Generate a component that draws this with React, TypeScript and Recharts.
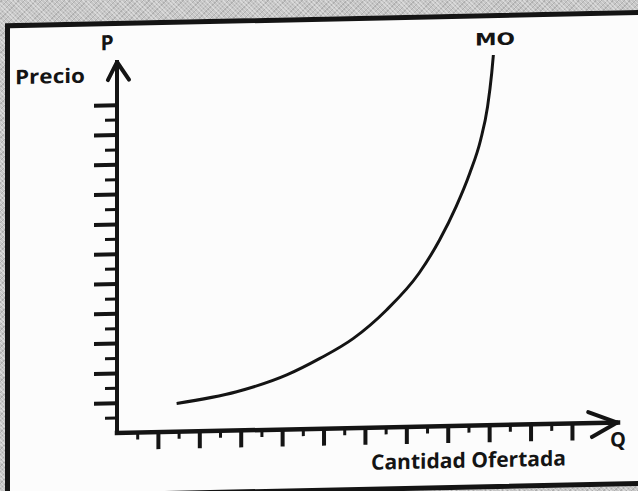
import React from "react";
import { LineChart, Line, XAxis, YAxis, ReferenceLine } from "recharts";

// supply curve (MO) in tick units
const quantity = [1.44, 2.89, 4.1, 4.9, 5.71, 6.51, 7.29, 7.79, 8.19, 8.52, 8.78, 8.95, 9.05, 9.09];
const price = [0.95, 1.3, 1.83, 2.36, 3.01, 3.94, 5.14, 6.25, 7.36, 8.47, 9.57, 10.69, 11.81, 12.42];

const qTicks = [0.5, 1, 1.5, 2, 2.5, 3, 3.5, 4, 4.5, 5, 5.5, 6, 6.5, 7, 7.5, 8, 8.5, 9, 9.5, 10, 10.5, 11];
const pTicks = [0.5, 1, 1.5, 2, 2.5, 3, 3.5, 4, 4.5, 5, 5.5, 6, 6.5, 7, 7.5, 8, 8.5, 9, 9.5, 10, 10.5, 11];

const data = quantity.map((q, i) => ({ q, p: price[i] }));

const INK = "#141414";
const FONT = "'Open Sans', Lato, sans-serif";

const XTick = (props: any) => {
  const { x, y, payload } = props;
  const major = Number.isInteger(payload.value);
  return (
    <line x1={x} x2={x} y1={y} y2={y + (major ? 17 : 7)} stroke={INK} strokeWidth={major ? 4 : 3} />
  );
};

const YTick = (props: any) => {
  const { x, y, payload } = props;
  const major = Number.isInteger(payload.value);
  return (
    <line x1={x - (major ? 23 : 12)} x2={x} y1={y} y2={y} stroke={INK} strokeWidth={major ? 4 : 3} />
  );
};

const arrow = { stroke: INK, strokeWidth: 4, ifOverflow: "visible" as const, strokeLinecap: "round" as const };

export default function App() {
  return (
    <div
      style={{
        position: "fixed",
        left: 0,
        top: 0,
        width: 638,
        height: 491,
        overflow: "hidden",
        background: "#c6c6c6",
        backgroundImage:
          "repeating-linear-gradient(45deg, rgba(255,255,255,0.35) 0 1px, transparent 1px 3px), repeating-linear-gradient(-45deg, rgba(0,0,0,0.12) 0 1px, transparent 1px 4px)",
      }}
    >
      {/* the photo is slightly sheared, verticals stay vertical */}
      <div
        style={{
          position: "absolute",
          left: 0,
          top: 0,
          width: 638,
          height: 491,
          transform: "skewY(-1.2deg)",
          transformOrigin: "117px 433px",
        }}
      >
        <div
          style={{
            position: "absolute",
            left: 5,
            top: 21,
            width: 800,
            height: 476,
            boxSizing: "border-box",
            border: `5px solid ${INK}`,
            background: "#fcfcfc",
          }}
        />
        <div style={{ position: "absolute", left: 0, top: 0 }}>
          <LineChart width={638} height={491} data={data} margin={{ top: 62, right: 20, left: 0, bottom: 0 }}>
            <XAxis
              dataKey="q"
              type="number"
              domain={[0, 12.1]}
              ticks={qTicks}
              interval={0}
              height={58}
              tickSize={0}
              tickMargin={0}
              tickLine={false}
              tick={XTick}
              axisLine={{ stroke: INK, strokeWidth: 4.5, strokeLinecap: "square" }}
              allowDataOverflow
            />
            <YAxis
              type="number"
              domain={[0, 12.45]}
              ticks={pTicks}
              interval={0}
              width={117}
              tickSize={0}
              tickMargin={0}
              tickLine={false}
              tick={YTick}
              axisLine={{ stroke: INK, strokeWidth: 4, strokeLinecap: "square" }}
              allowDataOverflow
            />
            <ReferenceLine segment={[{ x: -0.22, y: 11.85 }, { x: 0, y: 12.45 }]} {...arrow} />
            <ReferenceLine segment={[{ x: 0, y: 12.45 }, { x: 0.29, y: 11.85 }]} {...arrow} />
            <ReferenceLine segment={[{ x: 11.38, y: 0.37 }, { x: 12.08, y: 0 }]} {...arrow} />
            <ReferenceLine segment={[{ x: 12.08, y: 0 }, { x: 11.47, y: -0.47 }]} {...arrow} />
            <Line
              dataKey="p"
              type="monotone"
              stroke={INK}
              strokeWidth={3}
              dot={false}
              activeDot={false}
              isAnimationActive={false}
            />
          </LineChart>
        </div>
        <svg width={638} height={491} style={{ position: "absolute", left: 0, top: 0, pointerEvents: "none" }}>
          <g fill={INK} fontFamily={FONT} fontWeight={700}>
            <text x={107} y={50} fontSize={21} textAnchor="middle">P</text>
            <text x={15} y={82} fontSize={20} textLength={70} lengthAdjust="spacingAndGlyphs">Precio</text>
            <text x={475} y={53} fontSize={17} fontFamily="'DejaVu Sans', sans-serif" textLength={40} lengthAdjust="spacingAndGlyphs">MO</text>
            <text x={618} y={457} fontSize={20} textAnchor="middle">Q</text>
            <text x={371} y={475} fontSize={21} textLength={195} lengthAdjust="spacingAndGlyphs">Cantidad Ofertada</text>
          </g>
        </svg>
      </div>
    </div>
  );
}
